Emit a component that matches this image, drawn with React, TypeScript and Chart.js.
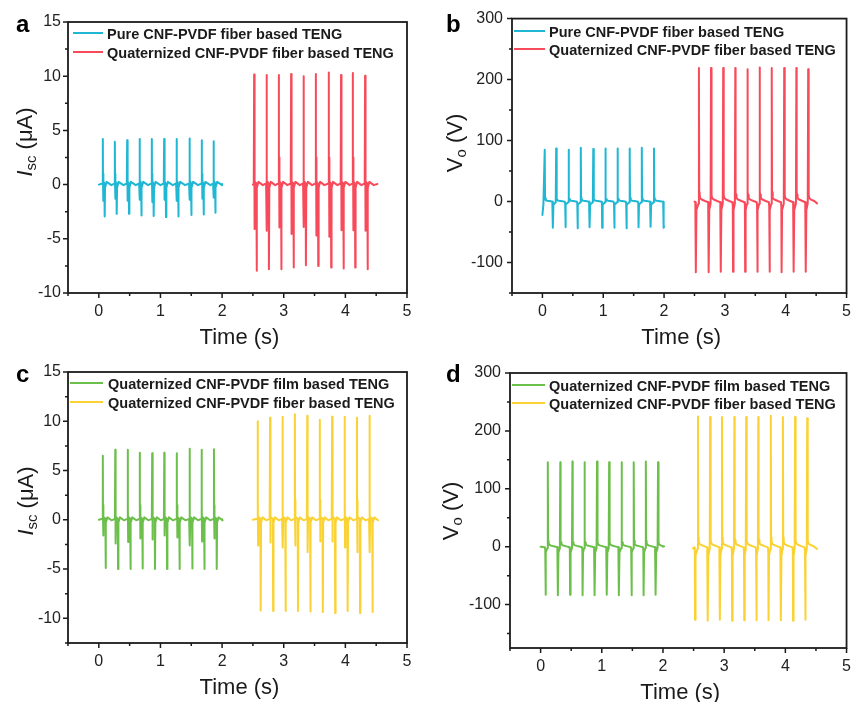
import React, { useEffect, useRef } from 'react';
import { Chart, registerables } from 'chart.js';
Chart.register(...registerables);

const FONT = '"Liberation Sans", Arial, Helvetica, sans-serif';
const INK = '#1b1b1b';
const CYAN = '#1fb7d3';
const RED = '#f74b5b';
const GREEN = '#6cbf4b';
const YELLOW = '#fad233';

const LEG_PURE = 'Pure CNF-PVDF fiber based TENG';
const LEG_QFIBER = 'Quaternized CNF-PVDF fiber based TENG';
const LEG_QFILM = 'Quaternized CNF-PVDF film based TENG';

// ticks
const TIME_MAJOR = [0, 1, 2, 3, 4, 5];
const TIME_MINOR = [-0.5, 0.5, 1.5, 2.5, 3.5, 4.5];
const ISC_A_MAJOR = [-10, -5, 0, 5, 10, 15];
const ISC_A_MINOR = [-7.5, -2.5, 2.5, 7.5, 12.5];
const VO_B_MAJOR = [-100, 0, 100, 200, 300];
const VO_B_MINOR = [-150, -50, 50, 150, 250];
const ISC_C_MAJOR = [-10, -5, 0, 5, 10, 15];
const ISC_C_MINOR = [-12.5, -7.5, -2.5, 2.5, 7.5, 12.5];
const VO_D_MAJOR = [-100, 0, 100, 200, 300];
const VO_D_MINOR = [-150, -50, 50, 150, 250];

// ---- panel a : Isc, pure fiber (cyan) / quaternized fiber (red)
const aPureSpan = [0, 2.0];
const aPurePeakT = [0.065, 0.26, 0.46, 0.66, 0.86, 1.06, 1.26, 1.47, 1.67, 1.86];
const aPurePeakI = [4.2, 3.95, 4.1, 4.2, 4.2, 4.2, 4.2, 4.25, 4.1, 4.0];
const aPureDipI = [-1.5, -1.3, -1.5, -1.4, -1.6, -1.4, -1.5, -1.4, -1.3, -1.2];
const aPureTroughI = [-2.95, -2.7, -2.7, -2.85, -2.9, -3.0, -2.95, -2.8, -2.75, -2.6];
const aPureBlip = 1.0;
const aPureLag = 0.03;

const aQuatSpan = [2.5, 4.52];
const aQuatPeakT = [2.52, 2.72, 2.92, 3.12, 3.32, 3.52, 3.73, 3.93, 4.12, 4.32];
const aQuatPeakI = [10.15, 10.1, 10.1, 10.2, 10.0, 10.2, 10.35, 10.1, 10.3, 10.05];
const aQuatDipI = [-4.1, -4.25, -3.95, -4.55, -3.9, -4.7, -4.8, -4.2, -4.2, -4.25];
const aQuatTroughI = [-7.95, -7.8, -7.8, -7.65, -7.45, -7.5, -7.65, -7.75, -7.65, -7.8];
const aQuatBlip = 2.5;
const aQuatLag = 0.04;

// ---- panel b : Vo, pure fiber (cyan) / quaternized fiber (red)
const bPureStart = [[0, -22], [0.016, -5]];
const bPureEnd = [2.0, -41];
const bPurePeakT = [0.038, 0.226, 0.431, 0.631, 0.836, 1.036, 1.235, 1.435, 1.634, 1.834];
const bPurePeakV = [85, 87, 85, 88, 86, 87, 87, 87, 88, 87];
const bPureTroughT = [0.173, 0.378, 0.577, 0.777, 0.982, 1.181, 1.381, 1.58, 1.78, 1.995];
const bPureTroughV = [-43, -42, -44, -42, -43, -43, -44, -42, -41.5, -43];

const bQuatStart = [[2.5, 0]];
const bQuatEnd = [4.515, -3];
const bQuatTroughT = [2.524, 2.735, 2.934, 3.134, 3.333, 3.533, 3.733, 3.932, 4.132, 4.331];
const bQuatTroughV = [-116, -116, -115, -115, -115, -115, -115, -116, -115, -115];
const bQuatPeakT = [2.573, 2.772, 2.972, 3.171, 3.371, 3.571, 3.77, 3.975, 4.175, 4.369];
const bQuatPeakV = [219, 219, 219, 219, 217, 220, 219, 219, 219, 217];

// ---- panel c : Isc, quaternized film (green) / quaternized fiber (yellow)
const cFilmSpan = [0, 2.0];
const cFilmPeakT = [0.065, 0.267, 0.468, 0.664, 0.866, 1.062, 1.264, 1.471, 1.667, 1.868];
const cFilmPeakI = [6.5, 7.1, 7.1, 6.8, 6.75, 6.8, 6.75, 7.2, 7.1, 7.15];
const cFilmDipI = [-1.6, -2.4, -2.25, -1.9, -2.0, -1.6, -1.8, -2.6, -2.2, -1.9];
const cFilmTroughI = [-4.9, -5.0, -5.0, -4.95, -5.0, -5.0, -5.0, -4.95, -5.0, -5.0];
const cFilmBlip = 1.5;
const cFilmLag = 0.045;

const cFiberSpan = [2.5, 4.51];
const cFiberPeakT = [2.576, 2.778, 2.979, 3.181, 3.382, 3.584, 3.785, 3.987, 4.188, 4.39];
const cFiberPeakI = [10.0, 10.35, 10.45, 10.7, 10.55, 10.15, 10.45, 10.45, 10.35, 10.55];
const cFiberDipI = [-2.6, -2.3, -2.8, -2.6, -3.3, -2.2, -2.2, -2.8, -3.3, -3.3];
const cFiberTroughI = [-9.2, -9.25, -9.25, -9.25, -9.3, -9.35, -9.45, -9.25, -9.45, -9.35];
const cFiberBlip = 2.0;
const cFiberLag = 0.05;

// ---- panel d : Vo, quaternized film (green) / quaternized fiber (yellow)
const dFilmStart = [[0, 0]];
const dFilmEnd = [2.0, 0];
const dFilmTroughT = [0.08, 0.284, 0.482, 0.686, 0.884, 1.083, 1.281, 1.485, 1.683, 1.881];
const dFilmTroughV = [-83, -84, -83, -84, -84, -83, -84, -84, -84, -83];
const dFilmPeakT = [0.118, 0.322, 0.52, 0.718, 0.922, 1.12, 1.324, 1.522, 1.72, 1.919];
const dFilmPeakV = [146, 146, 147, 146, 147, 146, 146, 146, 147, 146];

const dFiberStart = [[2.49, -3]];
const dFiberEnd = [4.52, -4];
const dFiberTroughT = [2.524, 2.733, 2.931, 3.13, 3.328, 3.526, 3.725, 3.928, 4.126, 4.325];
const dFiberTroughV = [-126, -128, -126, -128, -127, -127, -127, -127, -128, -126];
const dFiberPeakT = [2.572, 2.771, 2.964, 3.167, 3.36, 3.558, 3.762, 3.96, 4.159, 4.357];
const dFiberPeakV = [225, 224, 224, 224, 224, 224, 226, 224, 224, 222];

type Pt = { x: number; y: number };

function currentTrace(span: number[], peakT: number[], peakI: number[], dipI: number[], troughI: number[], blip: number, lag: number): Pt[] {
  const pts: Pt[] = [{ x: span[0], y: 0 }];
  for (let k = 0; k < peakT.length; k++) {
    const t = peakT[k];
    pts.push({ x: t - 0.006, y: 0.1 });
    pts.push({ x: t, y: peakI[k] });
    pts.push({ x: t + 0.003, y: 0.2 });
    pts.push({ x: t + 0.005, y: blip });
    pts.push({ x: t + 0.008, y: dipI[k] });
    pts.push({ x: t + 0.013, y: 0.3 });
    pts.push({ x: t + lag - 0.004, y: 0.1 });
    pts.push({ x: t + lag, y: troughI[k] });
    pts.push({ x: t + lag + 0.006, y: -0.3 });
    pts.push({ x: t + lag + 0.03, y: 0.25 });
    pts.push({ x: t + 0.14, y: -0.05 });
  }
  pts.push({ x: span[1], y: 0.05 });
  return pts;
}

function voltageTrace(start: number[][], end: number[], troughT: number[], troughV: number[], peakT: number[], peakV: number[]): Pt[] {
  const ev = [
    ...troughT.map((t, i) => ({ t, v: troughV[i], kind: 'T' })),
    ...peakT.map((t, i) => ({ t, v: peakV[i], kind: 'P' })),
  ].sort((a, b) => a.t - b.t);
  const pts: Pt[] = start.map((p) => ({ x: p[0], y: p[1] }));
  ev.forEach((e, i) => {
    const a = Math.abs(e.v);
    if (e.kind === 'T') {
      pts.push({ x: e.t - 0.01, y: -0.01 * a });
      pts.push({ x: e.t - 0.004, y: -0.07 * a });
      pts.push({ x: e.t, y: e.v });
      const nxt = ev[i + 1];
      if (nxt && nxt.kind === 'P') {
        pts.push({ x: e.t + 0.008, y: -0.12 * a });
        pts.push({ x: nxt.t - 0.007, y: -0.03 * a });
      }
    } else {
      pts.push({ x: e.t, y: e.v });
      pts.push({ x: e.t + 0.005, y: 0.07 * e.v });
      pts.push({ x: e.t + 0.012, y: 0.05 * e.v });
      pts.push({ x: e.t + 0.02, y: 0.025 * e.v });
      pts.push({ x: e.t + 0.045, y: 0.015 * e.v });
      pts.push({ x: e.t + 0.1, y: 0.004 * e.v });
    }
  });
  pts.push({ x: end[0], y: end[1] });
  return pts;
}

type TitlePart = { text: string; font: string; dy: number };
const ISC_TITLE: TitlePart[] = [
  { text: 'I', font: `italic 22px ${FONT}`, dy: 0 },
  { text: 'sc', font: `15px ${FONT}`, dy: 4 },
  { text: ' (μA)', font: `22px ${FONT}`, dy: 0 },
];
const VO_TITLE: TitlePart[] = [
  { text: 'V', font: `22px ${FONT}`, dy: 0 },
  { text: 'o', font: `15px ${FONT}`, dy: 4 },
  { text: ' (V)', font: `22px ${FONT}`, dy: 0 },
];

type Spec = {
  left: number; top: number; w: number; h: number;
  padTop: number; padRight: number; yWidth: number; xHeight: number;
  yMin: number; yMax: number; yStep: number; yLabelPad: number;
  yMajor: number[]; yMinor: number[];
  letter: string; letterPos: number[];
  yTitle: TitlePart[]; yTitlePos: number[];
  legend: { x0: number; x1: number; tx: number; rows: number[] };
  series: { label: string; color: string; data: Pt[] }[];
};

const SPECS: Spec[] = [
  {
    left: 0, top: 0, w: 430, h: 352, padTop: 22, padRight: 23, yWidth: 68, xHeight: 59,
    yMin: -10, yMax: 15, yStep: 2.5, yLabelPad: 7, yMajor: ISC_A_MAJOR, yMinor: ISC_A_MINOR,
    letter: 'a', letterPos: [16, 32], yTitle: ISC_TITLE, yTitlePos: [32, 142],
    legend: { x0: 73, x1: 103, tx: 107, rows: [33, 52] },
    series: [
      { label: LEG_PURE, color: CYAN, data: currentTrace(aPureSpan, aPurePeakT, aPurePeakI, aPureDipI, aPureTroughI, aPureBlip, aPureLag) },
      { label: LEG_QFIBER, color: RED, data: currentTrace(aQuatSpan, aQuatPeakT, aQuatPeakI, aQuatDipI, aQuatTroughI, aQuatBlip, aQuatLag) },
    ],
  },
  {
    left: 430, top: 0, w: 430, h: 352, padTop: 17, padRight: 8, yWidth: 82, xHeight: 59,
    yMin: -150, yMax: 300, yStep: 50, yLabelPad: 9, yMajor: VO_B_MAJOR, yMinor: VO_B_MINOR,
    letter: 'b', letterPos: [16, 32], yTitle: VO_TITLE, yTitlePos: [32, 143],
    legend: { x0: 84, x1: 115, tx: 119, rows: [31, 49] },
    series: [
      { label: LEG_PURE, color: CYAN, data: voltageTrace(bPureStart, bPureEnd, bPureTroughT, bPureTroughV, bPurePeakT, bPurePeakV) },
      { label: LEG_QFIBER, color: RED, data: voltageTrace(bQuatStart, bQuatEnd, bQuatTroughT, bQuatTroughV, bQuatPeakT, bQuatPeakV) },
    ],
  },
  {
    left: 0, top: 340, w: 430, h: 362, padTop: 32, padRight: 23, yWidth: 68, xHeight: 59,
    yMin: -12.5, yMax: 15, yStep: 2.5, yLabelPad: 7, yMajor: ISC_C_MAJOR, yMinor: ISC_C_MINOR,
    letter: 'c', letterPos: [16, 42], yTitle: ISC_TITLE, yTitlePos: [33, 161],
    legend: { x0: 70, x1: 103, tx: 108, rows: [43, 62] },
    series: [
      { label: LEG_QFILM, color: GREEN, data: currentTrace(cFilmSpan, cFilmPeakT, cFilmPeakI, cFilmDipI, cFilmTroughI, cFilmBlip, cFilmLag) },
      { label: LEG_QFIBER, color: YELLOW, data: currentTrace(cFiberSpan, cFiberPeakT, cFiberPeakI, cFiberDipI, cFiberTroughI, cFiberBlip, cFiberLag) },
    ],
  },
  {
    left: 430, top: 340, w: 430, h: 362, padTop: 33, padRight: 7, yWidth: 80, xHeight: 54,
    yMin: -175, yMax: 300, yStep: 25, yLabelPad: 9, yMajor: VO_D_MAJOR, yMinor: VO_D_MINOR,
    letter: 'd', letterPos: [16, 42], yTitle: VO_TITLE, yTitlePos: [28, 171],
    legend: { x0: 82, x1: 115, tx: 119, rows: [45, 63] },
    series: [
      { label: LEG_QFILM, color: GREEN, data: voltageTrace(dFilmStart, dFilmEnd, dFilmTroughT, dFilmTroughV, dFilmPeakT, dFilmPeakV) },
      { label: LEG_QFIBER, color: YELLOW, data: voltageTrace(dFiberStart, dFiberEnd, dFiberTroughT, dFiberTroughV, dFiberPeakT, dFiberPeakV) },
    ],
  },
];

function buildConfig(spec: Spec): any {
  const decor = {
    id: 'decor_' + spec.letter,
    afterDraw(chart: any) {
      const { ctx, chartArea: ca, scales } = chart;
      const xs = scales.x;
      const ys = scales.y;
      ctx.save();
      // frame
      ctx.strokeStyle = INK;
      ctx.lineWidth = 1.8;
      ctx.strokeRect(ca.left, ca.top, ca.right - ca.left, ca.bottom - ca.top);
      // ticks
      ctx.lineWidth = 1.5;
      ctx.beginPath();
      TIME_MAJOR.forEach((v) => { const p = xs.getPixelForValue(v); ctx.moveTo(p, ca.bottom); ctx.lineTo(p, ca.bottom + 5); });
      TIME_MINOR.forEach((v) => { const p = xs.getPixelForValue(v); ctx.moveTo(p, ca.bottom); ctx.lineTo(p, ca.bottom + 3); });
      spec.yMajor.forEach((v) => { const p = ys.getPixelForValue(v); ctx.moveTo(ca.left, p); ctx.lineTo(ca.left - 5, p); });
      spec.yMinor.forEach((v) => { const p = ys.getPixelForValue(v); ctx.moveTo(ca.left, p); ctx.lineTo(ca.left - 3, p); });
      ctx.stroke();
      // legend
      spec.series.forEach((s, i) => {
        const y = spec.legend.rows[i];
        ctx.strokeStyle = s.color;
        ctx.lineWidth = 2;
        ctx.beginPath();
        ctx.moveTo(spec.legend.x0, y);
        ctx.lineTo(spec.legend.x1, y);
        ctx.stroke();
        ctx.fillStyle = INK;
        ctx.font = `bold 14.5px ${FONT}`;
        ctx.textAlign = 'left';
        ctx.textBaseline = 'alphabetic';
        ctx.fillText(s.label, spec.legend.tx, y + 5.5);
      });
      // panel letter
      ctx.fillStyle = '#000';
      ctx.font = `bold 24px ${FONT}`;
      ctx.textAlign = 'left';
      ctx.textBaseline = 'alphabetic';
      ctx.fillText(spec.letter, spec.letterPos[0], spec.letterPos[1]);
      // x title
      ctx.fillStyle = INK;
      ctx.font = `22px ${FONT}`;
      ctx.textAlign = 'center';
      ctx.fillText('Time (s)', (ca.left + ca.right) / 2 + 2, ca.bottom + 51);
      // y title (rotated)
      ctx.save();
      ctx.translate(spec.yTitlePos[0], spec.yTitlePos[1]);
      ctx.rotate(-Math.PI / 2);
      ctx.textAlign = 'left';
      let total = 0;
      spec.yTitle.forEach((p) => { ctx.font = p.font; total += ctx.measureText(p.text).width; });
      let x = -total / 2;
      spec.yTitle.forEach((p) => {
        ctx.font = p.font;
        ctx.fillText(p.text, x, p.dy);
        x += ctx.measureText(p.text).width;
      });
      ctx.restore();
      ctx.restore();
    },
  };

  return {
    type: 'line',
    data: {
      datasets: spec.series.map((s) => ({
        label: s.label,
        data: s.data,
        borderColor: s.color,
        borderWidth: 2,
        pointRadius: 0,
        fill: false,
        tension: 0,
        borderJoinStyle: 'round',
        borderCapStyle: 'round',
      })),
    },
    options: {
      animation: false,
      responsive: false,
      maintainAspectRatio: false,
      devicePixelRatio: 1,
      events: [],
      layout: { padding: { top: spec.padTop, right: spec.padRight, left: 0, bottom: 0 } },
      plugins: { legend: { display: false }, tooltip: { enabled: false }, title: { display: false } },
      scales: {
        x: {
          type: 'linear',
          min: -0.5,
          max: 5,
          ticks: {
            stepSize: 0.5,
            autoSkip: false,
            maxRotation: 0,
            padding: 9,
            color: '#222',
            font: { family: FONT, size: 16 },
            callback: (v: any) => (TIME_MAJOR.includes(Number(v)) ? String(v) : ''),
          },
          grid: { display: false, drawTicks: false },
          border: { display: false },
          afterFit: (s: any) => { s.height = spec.xHeight; },
        },
        y: {
          type: 'linear',
          min: spec.yMin,
          max: spec.yMax,
          ticks: {
            stepSize: spec.yStep,
            autoSkip: false,
            padding: spec.yLabelPad,
            color: '#222',
            font: { family: FONT, size: 16 },
            callback: (v: any) => (spec.yMajor.includes(Number(v)) ? String(v) : ''),
          },
          grid: { display: false, drawTicks: false },
          border: { display: false },
          afterFit: (s: any) => { s.width = spec.yWidth; },
        },
      },
    },
    plugins: [decor],
  };
}

function Panel({ spec }: { spec: Spec }) {
  const ref = useRef<HTMLCanvasElement>(null);
  useEffect(() => {
    const chart = new Chart(ref.current as HTMLCanvasElement, buildConfig(spec));
    return () => chart.destroy();
  }, [spec]);
  return (
    <canvas
      ref={ref}
      width={spec.w}
      height={spec.h}
      style={{ position: 'absolute', left: spec.left, top: spec.top, width: spec.w, height: spec.h }}
    />
  );
}

export default function App() {
  return (
    <div style={{ position: 'absolute', left: 0, top: 0, width: 860, height: 702, background: '#fff', overflow: 'hidden' }}>
      {SPECS.map((s) => (
        <Panel key={s.letter} spec={s} />
      ))}
    </div>
  );
}
